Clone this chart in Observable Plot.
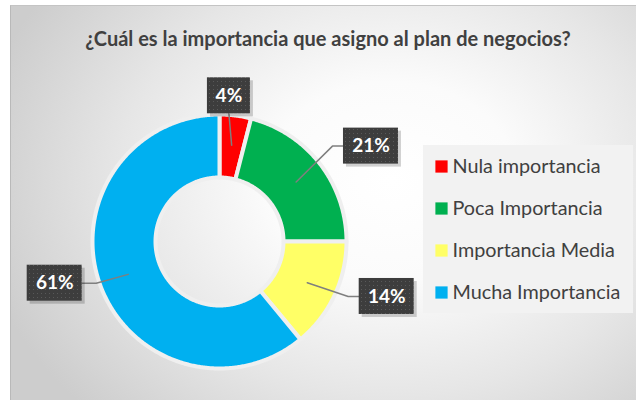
<!DOCTYPE html>
<html>
<head>
<meta charset="utf-8">
<script src="https://cdn.jsdelivr.net/npm/d3@7"></script>
<script src="https://cdn.jsdelivr.net/npm/@observablehq/plot@0.6"></script>
<style>
  html, body { margin: 0; padding: 0; background: #ffffff; }
  #wrap { position: relative; width: 636px; height: 400px; overflow: hidden; }
  #frame {
    position: absolute; left: 10px; top: 5px; width: 626px; height: 395px;
    box-sizing: border-box;
    border-left: 1px solid #b9b9b9; border-top: 1px solid #c4c4c4;
    background: radial-gradient(ellipse 420px 330px at 380px 175px, #ffffff 0%, #fbfbfb 30%, #e6e6e6 65%, #cdcdcd 100%);
  }
  #title {
    position: absolute; left: 10px; width: 636px; top: 26px; text-align: center;
    font-family: Lato, "Open Sans", sans-serif; font-weight: 700; font-size: 20px; color: #404040;
  }
  #chart { position: absolute; left: 0; top: 0; }
</style>
</head>
<body>
<div id="wrap">
  <div id="frame"></div>
  <div id="title">¿Cuál es la importancia que asigno al plan de negocios?</div>
  <div id="chart"></div>
</div>
<script>
// ---- data ----
const categories = ["Nula importancia", "Poca Importancia", "Importancia Media", "Mucha Importancia"];
const values = [4, 21, 14, 61];
const colors = ["#ff0000", "#00b050", "#ffff66", "#00b0f0"];

// ---- layout ----
const W = 636, H = 400;
const cx = 219, cy = 241, R = 127, r = 64;
// label placement: [angle offset from slice mid-angle (deg), radius from centre]
const labelPlacement = [[-3.5, 146], [5.6, 179], [-7, 176], [5.6, 170]];
const anchorRadius = 97;
const legend = {x0: 423, y0: 145, x1: 633, y1: 313, first: 166, step: 42, sq: 441, tx: 452};

const total = d3.sum(values);
const pie = d3.pie().sort(null).value(d => d)(values);
const rad = Math.PI / 180;

// donut ring polygons built from pie angles
const ringPts = [];
pie.forEach((p, i) => {
  const a0 = p.startAngle, a1 = p.endAngle;
  const n = Math.max(2, Math.ceil((a1 - a0) / (0.5 * rad)));
  for (let k = 0; k <= n; k++) {
    const a = a0 + (a1 - a0) * k / n;
    ringPts.push({cat: categories[i], x: cx + R * Math.sin(a), y: cy - R * Math.cos(a)});
  }
  for (let k = n; k >= 0; k--) {
    const a = a0 + (a1 - a0) * k / n;
    ringPts.push({cat: categories[i], x: cx + r * Math.sin(a), y: cy - r * Math.cos(a)});
  }
});

// labels
const labels = pie.map((p, i) => {
  const mid = (p.startAngle + p.endAngle) / 2;
  const la = mid + labelPlacement[i][0] * rad, lr = labelPlacement[i][1];
  const text = Math.round(values[i] / total * 100) + "%";
  const w = 19 + 12 * text.length, h = 36;
  const bx = cx + lr * Math.sin(la), by = cy - lr * Math.cos(la);
  const ax = cx + anchorRadius * Math.sin(mid), ay = cy - anchorRadius * Math.cos(mid);
  return {i, text, w, h, bx, by, ax, ay};
});
const leaders = [];
labels.forEach(l => {
  if (Math.abs(l.ax - l.bx) < l.w / 2) {
    leaders.push({id: l.i, x: l.bx, y: l.by + l.h / 2});
    leaders.push({id: l.i, x: l.ax, y: l.ay});
  } else if (l.bx > l.ax) {
    leaders.push({id: l.i, x: l.ax, y: l.ay});
    leaders.push({id: l.i, x: l.bx - l.w / 2 - 11, y: l.by});
    leaders.push({id: l.i, x: l.bx - l.w / 2, y: l.by});
  } else {
    leaders.push({id: l.i, x: l.ax, y: l.ay});
    leaders.push({id: l.i, x: l.bx + l.w / 2 + 14, y: l.by});
    leaders.push({id: l.i, x: l.bx + l.w / 2, y: l.by});
  }
});

const legendRows = categories.map((c, i) => ({cat: c, y: legend.first + i * legend.step}));

const font = "Lato, 'Open Sans', sans-serif";

const chart = Plot.plot({
  width: W, height: H,
  marginTop: 0, marginRight: 0, marginBottom: 0, marginLeft: 0,
  style: {background: "transparent", fontFamily: font, overflow: "visible"},
  x: {domain: [0, W], range: [0, W], axis: null},
  y: {domain: [0, H], range: [0, H], axis: null},
  color: {domain: categories, range: colors},
  marks: [
    Plot.line(ringPts, {x: "x", y: "y", z: "cat", fill: "cat", stroke: "#efefef", strokeWidth: 4, curve: "linear-closed"}),
    Plot.line(leaders, {x: "x", y: "y", z: "id", stroke: "#7f7f7f", strokeWidth: 1.5}),
    // label box shadows
    Plot.rect(labels, {x1: d => d.bx - d.w / 2 + 3, x2: d => d.bx + d.w / 2 + 3, y1: d => d.by - d.h / 2 + 3, y2: d => d.by + d.h / 2 + 3, fill: "#000", fillOpacity: 0.18}),
    Plot.rect(labels, {x1: d => d.bx - d.w / 2, x2: d => d.bx + d.w / 2, y1: d => d.by - d.h / 2, y2: d => d.by + d.h / 2, fill: "url(#dots)"}),
    Plot.text(labels, {x: "bx", y: "by", text: "text", fill: "#ffffff", fontWeight: "bold", fontSize: 19, fontFamily: font}),
    // legend
    Plot.rect([legend], {x1: "x0", x2: "x1", y1: "y0", y2: "y1", fill: "#f2f2f2"}),
    Plot.dot(legendRows, {x: () => legend.sq, y: "y", symbol: "square", r: 6.9, fill: "cat", stroke: null}),
    Plot.text(legendRows, {x: () => legend.tx, y: "y", text: "cat", textAnchor: "start", fill: "#404040", fontSize: 19.8, fontFamily: font})
  ]
});

// dotted pattern for label boxes
const ns = "http://www.w3.org/2000/svg";
const defs = document.createElementNS(ns, "defs");
defs.innerHTML = `<pattern id="dots" width="4" height="4" patternUnits="userSpaceOnUse">
  <rect width="4" height="4" fill="#3d3d3d"></rect>
  <rect x="1" y="1" width="1" height="1" fill="#595959"></rect>
</pattern>`;
chart.insertBefore(defs, chart.firstChild);
document.getElementById("chart").appendChild(chart);
</script>
</body>
</html>
